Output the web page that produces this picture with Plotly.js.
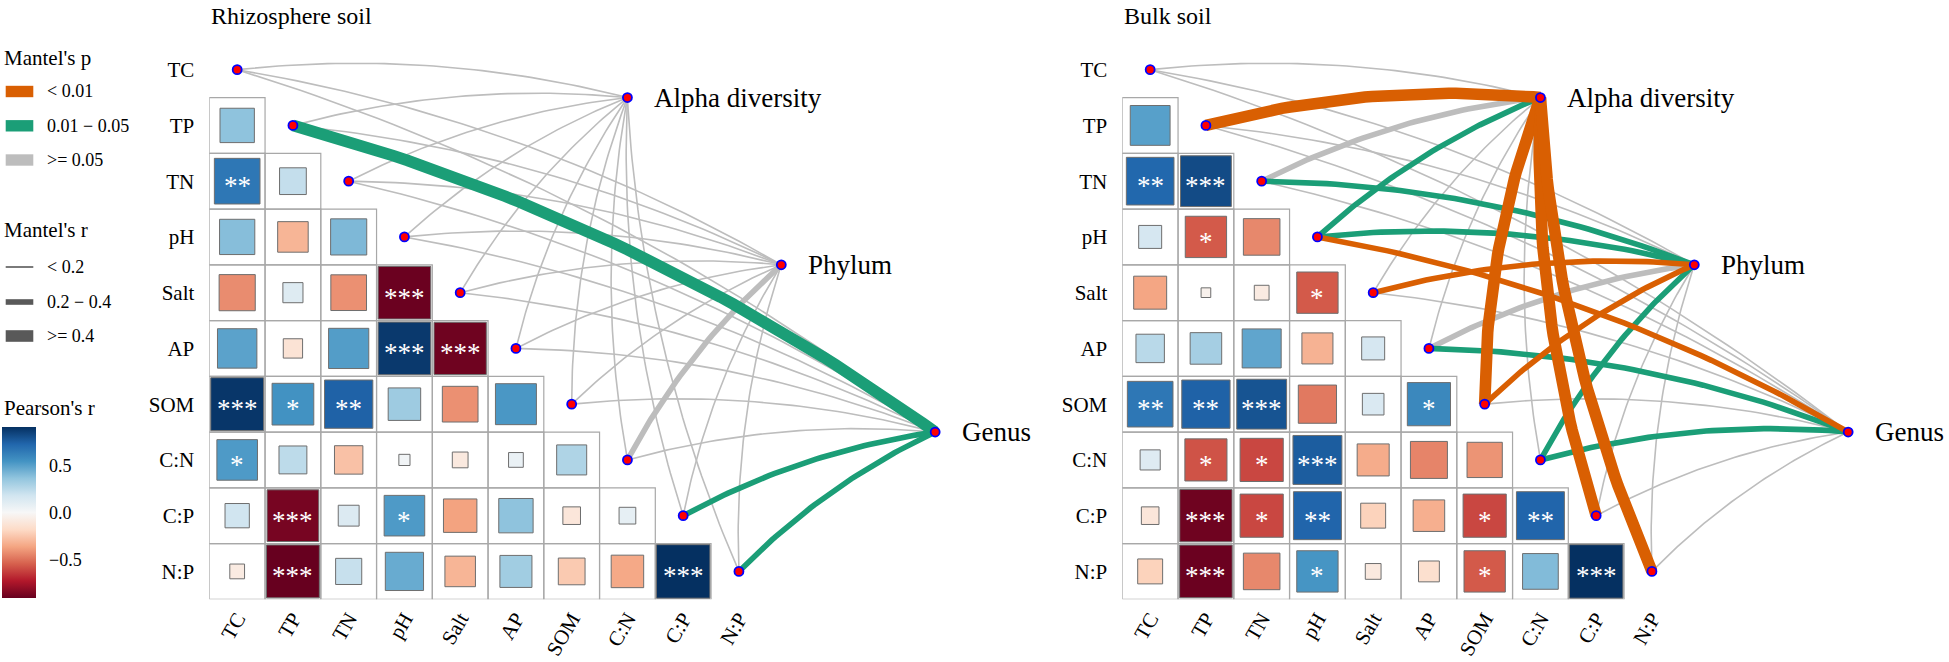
<!DOCTYPE html>
<html><head><meta charset="utf-8">
<script src="https://cdn.plot.ly/plotly-3.0.1.min.js"></script>
<style>html,body{margin:0;padding:0;background:#fff}#chart{width:1949px;height:662px}</style>
</head><body><div id="chart"></div>
<script>
// ---------------- DATA ----------------
const envVars = ['TC','TP','TN','pH','Salt','AP','SOM','C:N','C:P','N:P'];
const responses = ['Alpha diversity','Phylum','Genus'];
const panelTitles = ['Rhizosphere soil','Bulk soil'];

// Pearson's r, lower triangle (rows TP..N:P, columns TC..)
const rhizoR = [
  [0.38],
  [0.67, 0.23],
  [0.40, -0.30, 0.42],
  [-0.42, 0.13, -0.41, -0.89],
  [0.50, -0.12, 0.52, 0.89, -0.88],
  [0.90, 0.56, 0.75, 0.34, -0.41, 0.54],
  [0.53, 0.25, -0.26, 0.04, -0.08, 0.07, 0.29],
  [0.19, -0.86, 0.14, 0.53, -0.36, 0.38, -0.10, 0.09],
  [-0.07, -0.90, 0.22, 0.47, -0.30, 0.33, -0.23, -0.34, 0.92]
];
const rhizoSig = [
  [''],
  ['**',''],
  ['','',''],
  ['','','','***'],
  ['','','','***','***'],
  ['***','*','**','','',''],
  ['*','','','','','',''],
  ['','***','','*','','','',''],
  ['','***','','','','','','','***']
];
const bulkR = [
  [0.51],
  [0.73, 0.83],
  [0.17, -0.55, -0.43],
  [-0.35, -0.03, -0.07, -0.55],
  [0.26, 0.32, 0.49, -0.31, 0.17],
  [0.67, 0.75, 0.80, -0.47, 0.15, 0.60],
  [0.13, -0.57, -0.60, 0.77, -0.33, -0.44, -0.40],
  [-0.10, -0.88, -0.60, 0.74, -0.20, -0.32, -0.60, 0.74],
  [-0.20, -0.89, -0.43, 0.55, -0.08, -0.14, -0.55, 0.41, 0.92]
];
const bulkSig = [
  [''],
  ['**','***'],
  ['','*',''],
  ['','','','*'],
  ['','','','',''],
  ['**','**','***','','','*'],
  ['','*','*','***','','',''],
  ['','***','*','**','','','*','**'],
  ['','***','','*','','','*','','***']
];

// Mantel test classes: rows = envVars, columns = responses
const rhizoMantelP = [
  ['>=0.05','>=0.05','>=0.05'],
  ['>=0.05','>=0.05','0.01-0.05'],
  ['>=0.05','>=0.05','>=0.05'],
  ['>=0.05','>=0.05','>=0.05'],
  ['>=0.05','>=0.05','>=0.05'],
  ['>=0.05','>=0.05','>=0.05'],
  ['>=0.05','>=0.05','>=0.05'],
  ['>=0.05','>=0.05','>=0.05'],
  ['>=0.05','>=0.05','0.01-0.05'],
  ['>=0.05','>=0.05','0.01-0.05']
];
const rhizoMantelR = [
  ['<0.2','<0.2','<0.2'],
  ['<0.2','<0.2','>=0.4'],
  ['<0.2','<0.2','<0.2'],
  ['<0.2','<0.2','<0.2'],
  ['<0.2','<0.2','<0.2'],
  ['<0.2','<0.2','<0.2'],
  ['<0.2','<0.2','<0.2'],
  ['<0.2','0.2-0.4','<0.2'],
  ['<0.2','<0.2','0.2-0.4'],
  ['<0.2','<0.2','0.2-0.4']
];
const bulkMantelP = [
  ['>=0.05','>=0.05','>=0.05'],
  ['<0.01','>=0.05','>=0.05'],
  ['>=0.05','0.01-0.05','>=0.05'],
  ['0.01-0.05','0.01-0.05','<0.01'],
  ['>=0.05','<0.01','>=0.05'],
  ['>=0.05','>=0.05','0.01-0.05'],
  ['<0.01','<0.01','>=0.05'],
  ['>=0.05','0.01-0.05','0.01-0.05'],
  ['<0.01','>=0.05','>=0.05'],
  ['<0.01','>=0.05','>=0.05']
];
const bulkMantelR = [
  ['<0.2','<0.2','<0.2'],
  ['>=0.4','<0.2','<0.2'],
  ['0.2-0.4','0.2-0.4','<0.2'],
  ['0.2-0.4','0.2-0.4','0.2-0.4'],
  ['<0.2','0.2-0.4','<0.2'],
  ['<0.2','0.2-0.4','0.2-0.4'],
  ['>=0.4','0.2-0.4','<0.2'],
  ['<0.2','0.2-0.4','0.2-0.4'],
  ['>=0.4','<0.2','<0.2'],
  ['>=0.4','<0.2','<0.2']
];

const pLabels = ['< 0.01','0.01 \u2212 0.05','>= 0.05'];
const pKeys = ['<0.01','0.01-0.05','>=0.05'];
const rLabels = ['< 0.2','0.2 \u2212 0.4','>= 0.4'];
const rKeys = ['<0.2','0.2-0.4','>=0.4'];
const cbTicks = [-0.5, 0, 0.5];

// ---------------- STYLE / LAYOUT ----------------
const W = 1949, H = 662;
const CELL = 55.75;
const FONT = 'Liberation Serif, Times New Roman, serif';
const BOTTOM_PX = 599.3;
const X_RANGE = [-0.5, 13.2];
const Y_RANGE = [9.5, 9.5 - BOTTOM_PX / CELL];
const respPos = [[7.0, 0.5], [9.76, 3.5], [12.52, 6.5]];
const CURV = 0.045;
const rdbu = ['#67001F','#B2182B','#D6604D','#F4A582','#FDDBC7','#F7F7F7','#D1E5F0','#92C5DE','#4393C3','#2166AC','#053061'];
const colorscale = rdbu.map((c, i) => [i / 10, c]);
const pColor = {'<0.01':'#D95F02','0.01-0.05':'#1B9E77','>=0.05':'#BDBDBD'};
const rWidth = {'<0.2':1.6,'0.2-0.4':5.6,'>=0.4':11.6};
const pOrder = ['>=0.05','0.01-0.05','<0.01'];

const panels = [
  {R: rhizoR, S: rhizoSig, P: rhizoMantelP, M: rhizoMantelR, leftPx: 209.3, ax: 'x', ay: 'y'},
  {R: bulkR, S: bulkSig, P: bulkMantelP, M: bulkMantelR, leftPx: 1122.3, ax: 'x2', ay: 'y2'}
];

const allVals = rhizoR.flat().concat(bulkR.flat());
const cmin = Math.min(...allVals), cmax = Math.max(...allVals);

const px2x = p => p / W, px2y = p => 1 - p / H;

function curve(E, T, n = 48) {
  const dx = T[0] - E[0], dy = T[1] - E[1], L = Math.hypot(dx, dy);
  const nx = dy / L, ny = -dx / L, s = CURV * L;
  const cx = (E[0] + T[0]) / 2 + 2 * s * nx, cy = (E[1] + T[1]) / 2 + 2 * s * ny;
  const xs = [], ys = [];
  for (let k = 0; k <= n; k++) {
    const t = k / n, a = (1 - t) * (1 - t), b = 2 * t * (1 - t), c = t * t;
    xs.push(a * E[0] + b * cx + c * T[0]);
    ys.push(a * E[1] + b * cy + c * T[1]);
  }
  return [xs, ys];
}

const traces = [], shapes = [], annotations = [];
const CB = {top: 426.7, len: 170.6, left: 2.3, thick: 34.4};

panels.forEach((pn, idx) => {
  const xs = [], ys = [], vs = [];
  pn.R.forEach((row, k) => {
    const i = k + 1;
    row.forEach((v, j) => {
      xs.push(j); ys.push(i); vs.push(v);
      shapes.push({type: 'rect', xref: pn.ax, yref: pn.ay, x0: j - 0.5, x1: j + 0.5, y0: i - 0.5, y1: i + 0.5,
        line: {color: '#A8A8A8', width: 1.2}, layer: 'below'});
      const st = pn.S[k][j];
      if (st) annotations.push({xref: pn.ax, yref: pn.ay, x: j, y: i, text: st, showarrow: false,
        font: {family: FONT, size: 27, color: '#FFFFFF'}, yshift: -5});
    });
  });
  const marker = {symbol: 'square', size: vs.map(v => Math.sqrt(Math.abs(v)) * CELL), color: vs, opacity: 1,
    colorscale: colorscale, cmin: cmin, cmax: cmax, line: {color: '#6E6E6E', width: 1}, showscale: idx === 0};
  if (idx === 0) marker.colorbar = {
    x: px2x(CB.left), xanchor: 'left', y: px2y(CB.top), yanchor: 'top',
    len: CB.len, lenmode: 'pixels', thickness: CB.thick, thicknessmode: 'pixels',
    xpad: 0, ypad: 0, outlinewidth: 0, tickvals: cbTicks, ticktext: cbTicks.map(v => (v < 0 ? '\u2212' : '') + Math.abs(v).toFixed(1)),
    ticks: 'outside', ticklen: 10, tickcolor: 'rgba(0,0,0,0)', tickfont: {family: FONT, size: 18, color: '#000'}
  };
  traces.push({type: 'scatter', mode: 'markers', xaxis: pn.ax, yaxis: pn.ay, x: xs, y: ys, marker: marker,
    hoverinfo: 'skip', cliponaxis: false});

  // edges
  pOrder.forEach(pk => {
    rKeys.forEach(rk => {
      const ex = [], ey = [];
      envVars.forEach((_, e) => {
        responses.forEach((_, r) => {
          if (pn.P[e][r] === pk && pn.M[e][r] === rk) {
            const [cx, cy] = curve([e, e], respPos[r]);
            ex.push(...cx, null); ey.push(...cy, null);
          }
        });
      });
      if (ex.length) traces.push({type: 'scatter', mode: 'lines', xaxis: pn.ax, yaxis: pn.ay, x: ex, y: ey,
        line: {color: pColor[pk], width: rWidth[rk]}, hoverinfo: 'skip'});
    });
  });

  // nodes
  traces.push({type: 'scatter', mode: 'markers', xaxis: pn.ax, yaxis: pn.ay,
    x: envVars.map((_, j) => j).concat(respPos.map(p => p[0])),
    y: envVars.map((_, j) => j).concat(respPos.map(p => p[1])),
    marker: {size: 9, color: '#FF0000', opacity: 1, line: {color: '#0000FF', width: 1.8}}, hoverinfo: 'skip', cliponaxis: false});

  responses.forEach((name, r) => annotations.push({xref: pn.ax, yref: pn.ay, x: respPos[r][0], y: respPos[r][1],
    text: name, showarrow: false, xanchor: 'left', yanchor: 'middle', xshift: 25,
    font: {family: FONT, size: 27, color: '#000'}}));

  annotations.push({xref: 'paper', yref: 'paper', x: px2x(pn.leftPx), y: px2y(16), text: panelTitles[idx],
    showarrow: false, xanchor: 'left', yanchor: 'middle', font: {family: FONT, size: 24, color: '#000'}});
});

// legend: Mantel's p
const legText = (txt, xp, yp, size) => annotations.push({xref: 'paper', yref: 'paper', x: px2x(xp), y: px2y(yp),
  text: txt, showarrow: false, xanchor: 'left', yanchor: 'middle', font: {family: FONT, size: size, color: '#000'}});
legText("Mantel's p", 2, 58, 21);
const pY = [91.5, 125.8, 160];
pKeys.forEach((k, i) => {
  shapes.push({type: 'rect', xref: 'paper', yref: 'paper', x0: px2x(5.7), x1: px2x(33.3),
    y0: px2y(pY[i] - 5.7), y1: px2y(pY[i] + 5.7), fillcolor: pColor[k], line: {width: 0}});
  legText(pLabels[i], 45, pY[i], 18);
});
legText("Mantel's r", 2, 230, 21);
const rY = [267, 302, 336];
rKeys.forEach((k, i) => {
  const w = rWidth[k];
  shapes.push({type: 'rect', xref: 'paper', yref: 'paper', x0: px2x(5.7), x1: px2x(33.3),
    y0: px2y(rY[i] - w / 2), y1: px2y(rY[i] + w / 2), fillcolor: '#595959', line: {width: 0}});
  legText(rLabels[i], 45, rY[i], 18);
});
legText("Pearson's r", 2, 408, 21);
cbTicks.forEach(v => {
  const yp = CB.top + (cmax - v) / (cmax - cmin) * CB.len;
  [[CB.left, CB.left + 7], [CB.left + CB.thick - 7, CB.left + CB.thick]].forEach(([a, b]) =>
    shapes.push({type: 'line', xref: 'paper', yref: 'paper', x0: px2x(a), x1: px2x(b), y0: px2y(yp), y1: px2y(yp),
      line: {color: 'rgba(255,255,255,0.9)', width: 1.5}}));
});

const tickVals = envVars.map((_, j) => j);
function xAxis(leftPx, anchor) {
  return {domain: [px2x(leftPx), px2x(leftPx + (X_RANGE[1] - X_RANGE[0]) * CELL)], range: X_RANGE, anchor: anchor,
    tickvals: tickVals, ticktext: envVars, tickangle: -60, ticks: '', showgrid: false, zeroline: false,
    showline: false, ticklabelstandoff: 2, tickfont: {family: FONT, size: 21, color: '#000'}, fixedrange: true};
}
function yAxis(anchor) {
  return {domain: [1 - BOTTOM_PX / H, 1], range: Y_RANGE, anchor: anchor, tickvals: tickVals, ticktext: envVars,
    ticks: '', showgrid: false, zeroline: false, showline: false, ticklabelstandoff: 14,
    tickfont: {family: FONT, size: 21, color: '#000'}, fixedrange: true};
}

const layout = {
  width: W, height: H, margin: {l: 0, r: 0, t: 0, b: 0}, paper_bgcolor: '#FFFFFF', plot_bgcolor: 'rgba(0,0,0,0)',
  showlegend: false, hovermode: false, font: {family: FONT, color: '#000'},
  xaxis: xAxis(panels[0].leftPx, 'y'), yaxis: yAxis('x'),
  xaxis2: xAxis(panels[1].leftPx, 'y2'), yaxis2: yAxis('x2'),
  shapes: shapes, annotations: annotations
};
Plotly.newPlot('chart', traces, layout, {staticPlot: true, displayModeBar: false});
</script>
</body></html>
